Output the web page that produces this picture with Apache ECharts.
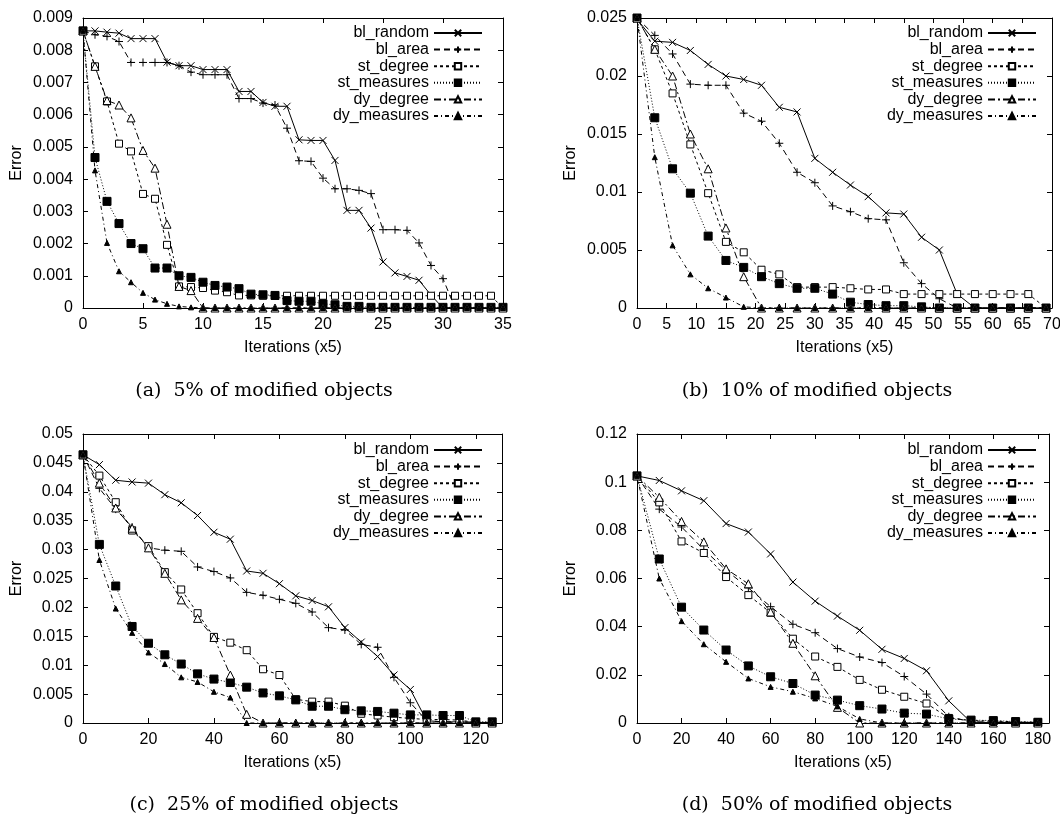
<!DOCTYPE html>
<html>
<head>
<meta charset="utf-8">
<script src="https://cdn.jsdelivr.net/npm/echarts@6/dist/echarts.min.js"></script>
<style>
html, body { margin: 0; padding: 0; background: #fff; }
#chart { width: 1060px; height: 817px; }
</style>
</head>
<body>
<div id="chart"></div>
<script>
var names = ['bl_random', 'bl_area', 'st_degree', 'st_measures', 'dy_degree', 'dy_measures'];

// (a) 5% of modified objects
var xA = [0, 1, 2, 3, 4, 5, 6, 7, 8, 9, 10, 11, 12, 13, 14, 15, 16, 17, 18, 19, 20, 21, 22, 23, 24, 25, 26, 27, 28, 29, 30, 31, 32, 33, 34, 35];
var aRandom = [0.0086, 0.0086, 0.00856, 0.00853, 0.00836, 0.00836, 0.00836, 0.00763, 0.00752, 0.00752,
    0.0074, 0.0074, 0.0074, 0.00672, 0.00672, 0.00638, 0.00626, 0.00626, 0.00522, 0.0052,
    0.0052, 0.00458, 0.00303, 0.00303, 0.00248, 0.00143, 0.00109, 0.00098, 0.00086, 0.0004,
    0, 0, 0, 0, 0, 0];
var aArea = [0.0086, 0.00848, 0.00843, 0.00827, 0.00762, 0.00762, 0.00762, 0.00762, 0.00752, 0.00732,
    0.00724, 0.00724, 0.00724, 0.0065, 0.0065, 0.00636, 0.0063, 0.00558, 0.00457, 0.00455,
    0.00403, 0.0037, 0.0037, 0.00365, 0.00355, 0.00243, 0.00243, 0.00241, 0.00202, 0.00132,
    0.00091, 0, 0, 0, 0, 0];
var aStDeg = [0.0086, 0.0075, 0.00641, 0.0051, 0.00486, 0.00354, 0.00339, 0.00196, 0.00067, 0.00065,
    0.00062, 0.00054, 0.00049, 0.00039, 0.00039, 0.00038, 0.00038, 0.00038, 0.00038, 0.00038,
    0.00038, 0.00038, 0.00038, 0.00038, 0.00038, 0.00038, 0.00038, 0.00038, 0.00038, 0.00038,
    0.00038, 0.00038, 0.00038, 0.00038, 0.00038, 0];
var aStMeas = [0.0086, 0.00467, 0.00331, 0.00262, 0.002, 0.00184, 0.00124, 0.00124, 0.001, 0.00095,
    0.0008, 0.0007, 0.00065, 0.0006, 0.00043, 0.00041, 0.00039, 0.00023, 0.00021, 0.00021,
    0.00013, 0.0001, 0.00005, 0.00005, 0.00002, 0.00002, 0.00002, 0.00002, 0.00002, 0.00002,
    0.00002, 0.00002, 0.00002, 0.00002, 0.00002, 0.00002];
var aDyDeg = [0.0086, 0.0075, 0.00644, 0.0063, 0.0059, 0.00489, 0.00434, 0.0026, 0.00067, 0.00054,
    0, 0, 0, 0, 0, 0, 0, 0, 0, 0, 0, 0, 0, 0, 0, 0, 0, 0, 0, 0, 0, 0, 0, 0, 0, 0];
var aDyMeas = [0.0086, 0.00427, 0.00202, 0.00114, 0.0008, 0.00047, 0.00026, 0.00013, 0.00005, 0.00002,
    0, 0, 0, 0, 0, 0, 0, 0, 0, 0, 0, 0, 0, 0, 0, 0, 0, 0, 0, 0, 0, 0, 0, 0, 0, 0];

// (b) 10% of modified objects
var xB = [0, 3, 6, 9, 12, 15, 18, 21, 24, 27, 30, 33, 36, 39, 42, 45, 48, 51, 54, 57, 60, 63, 66, 69];
var bRandom = [0.0249, 0.023, 0.0229, 0.0222, 0.021, 0.02, 0.0197, 0.0192, 0.0173, 0.0169, 0.0129, 0.0117,
    0.0106, 0.0096, 0.0082, 0.0081, 0.0061, 0.005, 0.0012, 0, 0, 0, 0, 0];
var bArea = [0.025, 0.0235, 0.0219, 0.0193, 0.0192, 0.0192, 0.0168, 0.0161, 0.0142, 0.0117, 0.0108, 0.0088,
    0.0083, 0.0077, 0.0076, 0.0039, 0.0021, 0.0008, 0, 0, 0, 0, 0, 0];
var bStDeg = [0.025, 0.0223, 0.0185, 0.0141, 0.0099, 0.0057, 0.0048, 0.0033, 0.0029, 0.0018, 0.0018, 0.0018,
    0.0017, 0.0016, 0.0016, 0.0012, 0.0012, 0.0012, 0.0012, 0.0012, 0.0012, 0.0012, 0.0012, 0];
var bStMeas = [0.025, 0.0164, 0.012, 0.0099, 0.0062, 0.0041, 0.0035, 0.0027, 0.0021, 0.0017, 0.0017, 0.0012,
    0.0005, 0.0003, 0.0002, 0.0002, 0.0001, 0, 0, 0, 0, 0, 0, 0];
var bDyDeg = [0.025, 0.0223, 0.02, 0.015, 0.012, 0.0069, 0.0027, 0, 0, 0, 0, 0,
    0, 0, 0, 0, 0, 0, 0, 0, 0, 0, 0, 0];
var bDyMeas = [0.025, 0.013, 0.0054, 0.0029, 0.0017, 0.0009, 0.0001, 0, 0, 0, 0, 0,
    0, 0, 0, 0, 0, 0, 0, 0, 0, 0, 0, 0];

// (c) 25% of modified objects
var xC = [0, 5, 10, 15, 20, 25, 30, 35, 40, 45, 50, 55, 60, 65, 70, 75, 80, 85, 90, 95, 100, 105, 110, 115, 120, 125];
var cRandom = [0.0464, 0.0447, 0.042, 0.0417, 0.0415, 0.0395, 0.0381, 0.0359, 0.033, 0.0318, 0.0263, 0.0259, 0.0241,
    0.022, 0.0212, 0.0201, 0.0165, 0.014, 0.0115, 0.0083, 0.0058, 0.0004, 0.0002, 0.0002, 0.0001, 0.0001];
var cArea = [0.0464, 0.0406, 0.037, 0.0339, 0.0303, 0.0299, 0.0297, 0.027, 0.0262, 0.0251, 0.0226, 0.0221, 0.0214,
    0.0207, 0.0192, 0.0165, 0.0161, 0.0136, 0.0131, 0.0079, 0.0035, 0.0004, 0.0002, 0.0002, 0.0001, 0.0001];
var cStDeg = [0.0464, 0.0428, 0.0382, 0.0333, 0.0306, 0.0261, 0.0231, 0.019, 0.0149, 0.0139, 0.0126, 0.0093, 0.0083,
    0.0041, 0.0037, 0.0037, 0.003, 0.0016, 0.0013, 0.001, 0.0008, 0.0006, 0.0006, 0.0005, 0.0001, 0];
var cStMeas = [0.0464, 0.0309, 0.0237, 0.0167, 0.0138, 0.0118, 0.0102, 0.0085, 0.0076, 0.007, 0.0062, 0.0052, 0.0047,
    0.004, 0.0029, 0.0029, 0.0023, 0.0021, 0.002, 0.0017, 0.0014, 0.0014, 0.0013, 0.0013, 0.0002, 0.0002];
var cDyDeg = [0.0464, 0.0415, 0.0372, 0.0337, 0.0303, 0.0259, 0.0213, 0.0181, 0.0148, 0.0083, 0.0015, 0, 0,
    0, 0, 0, 0, 0, 0, 0, 0, 0, 0, 0, 0, 0];
var cDyMeas = [0.0464, 0.0282, 0.0198, 0.0156, 0.0122, 0.0102, 0.0079, 0.0071, 0.0054, 0.0044, 0, 0, 0,
    0, 0, 0, 0, 0, 0, 0, 0, 0, 0, 0, 0, 0];

// (d) 50% of modified objects
var xD = [0, 10, 20, 30, 40, 50, 60, 70, 80, 90, 100, 110, 120, 130, 140, 150, 160, 170, 180];
var dRandom = [0.1026, 0.1007, 0.0964, 0.0923, 0.0828, 0.0793, 0.0702, 0.0585, 0.0506, 0.0444,
    0.0385, 0.0306, 0.0268, 0.0217, 0.0092, 0.0003, 0.0002, 0.0002, 0.0002];
var dArea = [0.1026, 0.0888, 0.0814, 0.072, 0.0634, 0.0561, 0.0483, 0.041, 0.0375, 0.0309,
    0.0274, 0.0251, 0.0193, 0.012, 0.0026, 0.0005, 0.0004, 0.0003, 0.0002];
var dStDeg = [0.1026, 0.0916, 0.0754, 0.0706, 0.0606, 0.0531, 0.0458, 0.035, 0.0276, 0.0233,
    0.0179, 0.0138, 0.0109, 0.0081, 0.0021, 0.001, 0.0008, 0.0005, 0.0003];
var dStMeas = [0.1026, 0.0681, 0.0481, 0.0386, 0.0303, 0.0237, 0.0192, 0.0164, 0.0116, 0.0095,
    0.0072, 0.0058, 0.0041, 0.0037, 0.0017, 0.0012, 0.001, 0.0006, 0.0003];
var dDyDeg = [0.1026, 0.0937, 0.0837, 0.0752, 0.064, 0.0578, 0.0461, 0.0331, 0.0196, 0.0065,
    0, 0, 0, 0, 0, 0, 0, 0, 0];
var dDyMeas = [0.1026, 0.06, 0.0423, 0.0327, 0.0254, 0.0185, 0.015, 0.013, 0.0102, 0.0069,
    0.0017, 0, 0, 0, 0, 0, 0, 0, 0];

var captions = ['(a)  5% of modified objects', '(b)  10% of modified objects',
    '(c)  25% of modified objects', '(d)  50% of modified objects'];

var panels = [
    { x: xA, ys: [aRandom, aArea, aStDeg, aStMeas, aDyDeg, aDyMeas], xMax: 35, xStep: 5, yMax: 0.009, yStep: 0.001 },
    { x: xB, ys: [bRandom, bArea, bStDeg, bStMeas, bDyDeg, bDyMeas], xMax: 70, xStep: 5, yMax: 0.025, yStep: 0.005 },
    { x: xC, ys: [cRandom, cArea, cStDeg, cStMeas, cDyDeg, cDyMeas], xMax: 128, xStep: 20, yMax: 0.05, yStep: 0.005 },
    { x: xD, ys: [dRandom, dArea, dStDeg, dStMeas, dDyDeg, dDyMeas], xMax: 185, xStep: 20, yMax: 0.12, yStep: 0.02 }
];

// gnuplot-like point types and dash types
var looks = [
    { symbol: 'path://M0,0L10,10M10,0L0,10', size: 7, fill: '#000', dash: 'solid' },
    { symbol: 'path://M5,0L5,10M0,5L10,5', size: 8, fill: '#000', dash: [6, 4] },
    { symbol: 'rect', size: 7, fill: '#fff', dash: [3, 3] },
    { symbol: 'rect', size: 8, fill: '#000', dash: [1, 2] },
    { symbol: 'triangle', size: 8, fill: '#fff', dash: [7, 3, 2, 3] },
    { symbol: 'triangle', size: 5, fill: '#000', dash: [4, 3, 1, 3] }
];

var grids = [
    { left: 83, top: 18, width: 420, height: 290 },
    { left: 637, top: 18, width: 415, height: 290 },
    { left: 83, top: 434, width: 419, height: 289 },
    { left: 637, top: 434, width: 412, height: 289 }
];
var legendPos = [
    { right: 577, top: 25 },
    { right: 23, top: 25 },
    { right: 577, top: 442 },
    { right: 23, top: 442 }
];
var captionPos = [[264, 391], [817, 391], [264, 805], [817, 805]];

var font = 'Liberation Sans, Arial, Helvetica, sans-serif';
var black = { color: '#000', width: 1 };

var option = {
    animation: false,
    backgroundColor: '#fff',
    grid: [],
    xAxis: [],
    yAxis: [],
    legend: [],
    series: [],
    graphic: []
};

panels.forEach(function (p, g) {
    option.grid.push(Object.assign({ show: false, outerBoundsMode: 'none' }, grids[g]));

    var base = {
        gridIndex: g,
        type: 'value',
        min: 0,
        splitLine: { show: false },
        axisLine: { show: true, onZero: false, lineStyle: black },
        axisTick: { show: true, inside: true, length: 5, lineStyle: black }
    };
    var labelStyle = { color: '#000', fontSize: 16, fontFamily: font };

    option.xAxis.push(Object.assign({}, base, {
        position: 'bottom', max: p.xMax, interval: p.xStep,
        axisLabel: Object.assign({ margin: 9, showMaxLabel: p.xMax % p.xStep === 0 }, labelStyle),
        name: 'Iterations (x5)', nameLocation: 'middle', nameGap: 32,
        nameTextStyle: labelStyle
    }));
    option.xAxis.push(Object.assign({}, base, {
        position: 'top', max: p.xMax, interval: p.xStep,
        axisLabel: { show: false }
    }));
    option.yAxis.push(Object.assign({}, base, {
        position: 'left', max: p.yMax, interval: p.yStep,
        axisLabel: Object.assign({ margin: 10 }, labelStyle),
        name: 'Error', nameLocation: 'middle', nameGap: 58,
        nameTextStyle: labelStyle
    }));
    option.yAxis.push(Object.assign({}, base, {
        position: 'right', max: p.yMax, interval: p.yStep,
        axisLabel: { show: false }
    }));

    option.legend.push(Object.assign({
        data: names,
        orient: 'vertical',
        align: 'right',
        padding: 0,
        itemWidth: 48,
        itemHeight: 8,
        itemGap: 0.6,
        selectedMode: false,
        textStyle: { color: '#000', fontSize: 16, fontFamily: font, lineHeight: 16 }
    }, legendPos[g]));

    names.forEach(function (name, k) {
        var look = looks[k];
        option.series.push({
            type: 'line',
            name: name,
            xAxisIndex: g * 2,
            yAxisIndex: g * 2,
            data: p.x.map(function (x, i) { return [x, p.ys[k][i]]; }),
            symbol: look.symbol,
            symbolSize: look.size,
            showAllSymbol: true,
            clip: false,
            lineStyle: { color: '#000', width: 1, type: look.dash },
            itemStyle: { color: look.fill, borderColor: '#000', borderWidth: 1 },
            emphasis: { disabled: true }
        });
    });

    option.graphic.push({
        type: 'text',
        x: captionPos[g][0],
        y: captionPos[g][1],
        style: {
            text: captions[g],
            fill: '#000',
            font: '19px "DejaVu Serif", "Liberation Serif", serif',
            align: 'center',
            verticalAlign: 'middle'
        }
    });
});

var myChart = echarts.init(document.getElementById('chart'), null, { renderer: 'canvas' });
myChart.setOption(option);
window.addEventListener('resize', myChart.resize);
</script>
</body>
</html>
